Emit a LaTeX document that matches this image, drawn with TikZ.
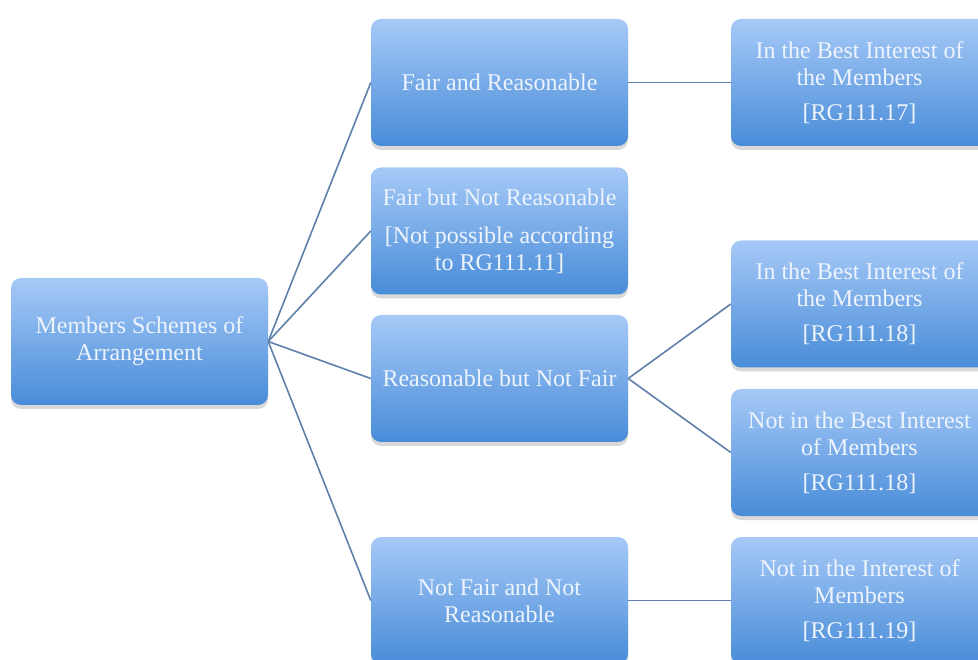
\documentclass[tikz,border=0pt]{standalone}
\usepackage{fontspec}
\setmainfont{Liberation Serif}
\usepackage{xcolor}
\usepackage{tikz}
\definecolor{schemetop}{RGB}{166, 201, 247}
\definecolor{schemebottom}{RGB}{72, 140, 216}
\definecolor{schemeline}{RGB}{94, 128, 170}
\definecolor{schemetext}{RGB}{238, 244, 252}
\usetikzlibrary{shapes,arrows,positioning,shadows}

\begin{document}
\begin{tikzpicture}[x=1pt, y=-1pt,
    schemebox/.style={top color=schemetop, bottom color=schemebottom, rounded corners=10pt,
        minimum width=257pt, minimum height=127pt, align=center, text=schemetext,
        font=\fontsize{24}{27}\selectfont,
        drop shadow={shadow xshift=0pt, shadow yshift=-4pt, opacity=0.25, fill=black!60}},
    link/.style={line width=1.6pt, schemeline}]
    \clip (0,0) rectangle (978,660);
    % root
    \node[schemebox] (members) at (139.5,341.5) {Members Schemes of\\Arrangement};
    % first level
    \node[schemebox] (fairreas) at (499.5,82.5) {Fair and Reasonable};
    \node[schemebox] (fairnot) at (499.5,231) {Fair but Not Reasonable\\[11pt][Not possible according\\to RG111.11]};
    \node[schemebox] (reasnot) at (499.5,378.5) {Reasonable but Not Fair};
    \node[schemebox] (neither) at (499.5,600.5) {Not Fair and Not\\Reasonable};
    % second level
    \node[schemebox] (best17) at (859.5,82.5) {In the Best Interest of\\the Members\\[8pt][RG111.17]};
    \node[schemebox] (best18) at (859.5,304) {In the Best Interest of\\the Members\\[8pt][RG111.18]};
    \node[schemebox] (notbest) at (859.5,452.5) {Not in the Best Interest\\of Members\\[8pt][RG111.18]};
    \node[schemebox] (notint) at (859.5,600.5) {Not in the Interest of\\Members\\[8pt][RG111.19]};
    % connectors
    \draw[link] (members.east) -- (fairreas.west);
    \draw[link] (members.east) -- (fairnot.west);
    \draw[link] (members.east) -- (reasnot.west);
    \draw[link] (members.east) -- (neither.west);
    \draw[link] (fairreas.east) -- (best17.west);
    \draw[link] (reasnot.east) -- (best18.west);
    \draw[link] (reasnot.east) -- (notbest.west);
    \draw[link] (neither.east) -- (notint.west);
\end{tikzpicture}
\end{document}
